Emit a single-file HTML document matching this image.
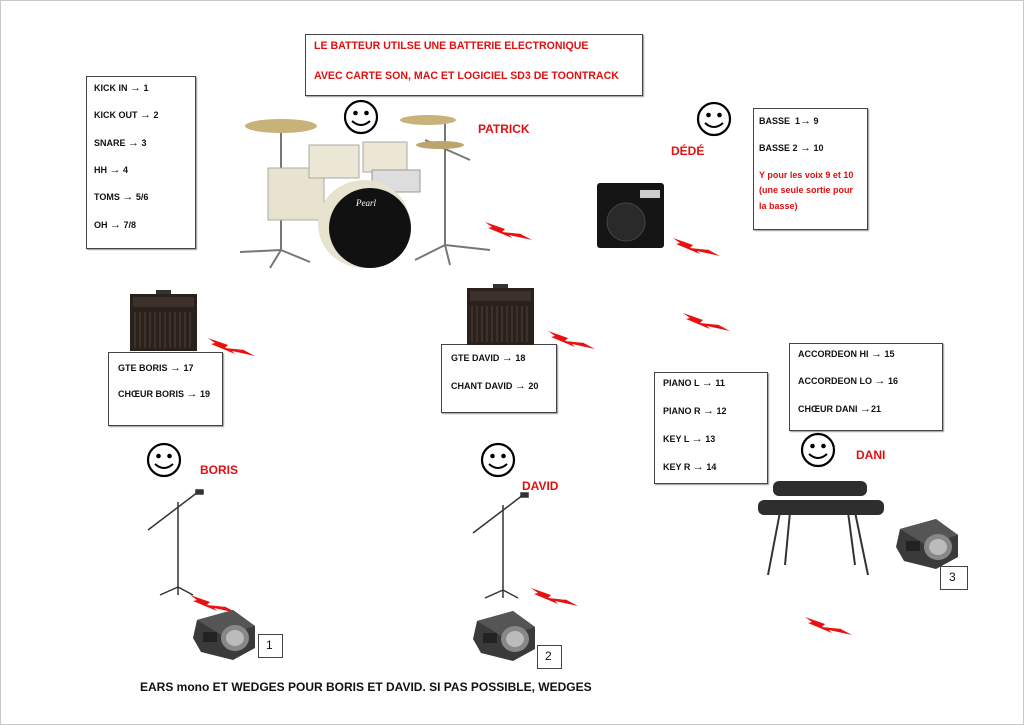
<!DOCTYPE html>
<html><head><meta charset="utf-8"><style>
body{margin:0;width:1024px;height:725px;background:#fff;overflow:hidden;position:relative;font-family:"Liberation Sans",Arial,sans-serif;}
.frame{position:absolute;left:0;top:0;width:1022px;height:723px;border:1px solid #c8c8c8;}
.box{position:absolute;border:1px solid #444;box-shadow:1px 1px 1px #999;background:#fff;}
.t{position:absolute;font-size:9px;font-weight:bold;white-space:nowrap;color:#111;}
.t b{font-size:11px;}
.r{color:#e01010;}
.name{position:absolute;color:#e01010;font-weight:bold;font-size:12px;}
svg{position:absolute;left:0;top:0;}
</style></head><body>
<div class="frame"></div>

<div class="box" style="left:305px;top:34px;width:336px;height:60px"></div>
<div class="t r" style="left:314px;top:40px;font-size:10.6px">LE BATTEUR UTILSE UNE BATTERIE ELECTRONIQUE</div>
<div class="t r" style="left:314px;top:70px;font-size:10.6px">AVEC CARTE SON, MAC ET LOGICIEL SD3 DE TOONTRACK</div>

<div class="box" style="left:86px;top:76px;width:108px;height:171px"></div>
<div class="t" style="left:94px;top:82px">KICK IN <b>→</b> 1</div>
<div class="t" style="left:94px;top:109px">KICK OUT <b>→</b> 2</div>
<div class="t" style="left:94px;top:137px">SNARE <b>→</b> 3</div>
<div class="t" style="left:94px;top:164px">HH <b>→</b> 4</div>
<div class="t" style="left:94px;top:191px">TOMS <b>→</b> 5/6</div>
<div class="t" style="left:94px;top:219px">OH <b>→</b> 7/8</div>

<div class="box" style="left:753px;top:108px;width:113px;height:120px"></div>
<div class="t" style="left:759px;top:115px">BASSE &nbsp;1<b>→</b> 9</div>
<div class="t" style="left:759px;top:142px">BASSE 2 <b>→</b> 10</div>
<div class="t r" style="left:759px;top:170px">Y pour les voix 9 et 10</div>
<div class="t r" style="left:759px;top:185px">(une seule sortie pour</div>
<div class="t r" style="left:759px;top:201px">la basse)</div>

<div class="box" style="left:108px;top:352px;width:113px;height:72px"></div>
<div class="t" style="left:118px;top:362px">GTE BORIS <b>→</b> 17</div>
<div class="t" style="left:118px;top:388px">CHŒUR BORIS <b>→</b> 19</div>

<div class="box" style="left:441px;top:344px;width:114px;height:67px"></div>
<div class="t" style="left:451px;top:352px">GTE DAVID <b>→</b> 18</div>
<div class="t" style="left:451px;top:380px">CHANT DAVID <b>→</b> 20</div>

<div class="box" style="left:654px;top:372px;width:112px;height:110px"></div>
<div class="t" style="left:663px;top:377px">PIANO L <b>→</b> 11</div>
<div class="t" style="left:663px;top:405px">PIANO R <b>→</b> 12</div>
<div class="t" style="left:663px;top:433px">KEY L <b>→</b> 13</div>
<div class="t" style="left:663px;top:461px">KEY R <b>→</b> 14</div>

<div class="box" style="left:789px;top:343px;width:152px;height:86px"></div>
<div class="t" style="left:798px;top:348px">ACCORDEON HI <b>→</b> 15</div>
<div class="t" style="left:798px;top:375px">ACCORDEON LO <b>→</b> 16</div>
<div class="t" style="left:798px;top:403px">CHŒUR DANI <b>→</b>21</div>

<div class="box" style="left:258px;top:634px;width:23px;height:22px;box-shadow:none"></div>
<div class="t" style="left:266px;top:638px;font-size:12px;font-weight:normal">1</div>
<div class="box" style="left:537px;top:645px;width:23px;height:22px;box-shadow:none"></div>
<div class="t" style="left:545px;top:649px;font-size:12px;font-weight:normal">2</div>
<div class="box" style="left:940px;top:566px;width:26px;height:22px;box-shadow:none"></div>
<div class="t" style="left:949px;top:570px;font-size:12px;font-weight:normal">3</div>

<div class="t" style="left:140px;top:680px;font-size:12px">EARS mono ET WEDGES POUR BORIS ET DAVID. SI PAS POSSIBLE, WEDGES</div>

<div class="name" style="left:478px;top:122px">PATRICK</div>
<div class="name" style="left:671px;top:144px">DÉDÉ</div>
<div class="name" style="left:200px;top:463px">BORIS</div>
<div class="name" style="left:522px;top:479px">DAVID</div>
<div class="name" style="left:856px;top:448px">DANI</div>

<svg width="1024" height="725" viewBox="0 0 1024 725">
<defs>
<g id="sm"><circle r="16" fill="#fff" stroke="#000" stroke-width="2.2"/><circle cx="-5.5" cy="-4" r="2.3"/><circle cx="5.5" cy="-4" r="2.3"/><path d="M-9 4 Q0 12 9 4" fill="none" stroke="#000" stroke-width="2"/></g>
<polygon id="lb" points="0,0 20,7 17,10 36,12 30,9 47,18 24,13 27,16 3,6 7,5" fill="#e81010"/>
<g id="amp"><rect x="0" y="0" width="67" height="57" fill="#2a211c"/><rect x="3" y="3" width="61" height="10" fill="#3d322b"/><g stroke="#4e4239" stroke-width="1"><line x1="5" y1="18" x2="5" y2="54"/><line x1="10" y1="18" x2="10" y2="54"/><line x1="15" y1="18" x2="15" y2="54"/><line x1="20" y1="18" x2="20" y2="54"/><line x1="25" y1="18" x2="25" y2="54"/><line x1="30" y1="18" x2="30" y2="54"/><line x1="35" y1="18" x2="35" y2="54"/><line x1="40" y1="18" x2="40" y2="54"/><line x1="45" y1="18" x2="45" y2="54"/><line x1="50" y1="18" x2="50" y2="54"/><line x1="55" y1="18" x2="55" y2="54"/><line x1="60" y1="18" x2="60" y2="54"/></g><rect x="26" y="-4" width="15" height="4" fill="#333"/></g>
<g id="wd"><polygon points="4,10 40,0 62,16 62,38 40,50 8,42 0,28" fill="#3a3a3a"/><polygon points="4,10 40,0 62,16 30,26" fill="#555"/><ellipse cx="42" cy="28" rx="14" ry="13" fill="#888"/><ellipse cx="42" cy="28" rx="9" ry="8" fill="#bbb"/><rect x="10" y="22" width="14" height="10" fill="#222"/></g>
<g id="mic" stroke="#333" fill="none" stroke-width="1.5"><line x1="30" y1="10" x2="30" y2="95"/><line x1="30" y1="95" x2="12" y2="103"/><line x1="30" y1="95" x2="45" y2="103"/><line x1="30" y1="95" x2="30" y2="103"/><line x1="0" y1="38" x2="50" y2="0"/><rect x="48" y="-2" width="7" height="4" fill="#333"/></g>
</defs>

<use href="#sm" x="361" y="117"/>
<use href="#sm" x="714" y="119"/>
<use href="#sm" x="164" y="460"/>
<use href="#sm" x="498" y="460"/>
<use href="#sm" x="818" y="450"/>

<use href="#lb" x="485" y="222"/>
<use href="#lb" x="673" y="238"/>
<use href="#lb" x="683" y="313"/>
<use href="#lb" x="208" y="338"/>
<use href="#lb" x="548" y="331"/>
<use href="#lb" x="190" y="595"/>
<use href="#lb" x="531" y="588"/>
<use href="#lb" x="805" y="617"/>

<use href="#amp" x="130" y="294"/>
<use href="#amp" x="467" y="288"/>
<g><rect x="597" y="183" width="67" height="65" rx="3" fill="#151515"/><circle cx="626" cy="222" r="19" fill="#2a2a2a" stroke="#444"/><rect x="640" y="190" width="20" height="8" fill="#ccc"/></g>

<use href="#wd" x="193" y="610"/>
<use href="#wd" x="473" y="611"/>
<use href="#wd" x="896" y="519"/>

<use href="#mic" x="148" y="492"/>
<use href="#mic" x="473" y="495"/>

<g stroke="#333" stroke-width="2"><line x1="780" y1="512" x2="768" y2="575"/><line x1="790" y1="512" x2="785" y2="565"/><line x1="855" y1="512" x2="868" y2="575"/><line x1="848" y1="512" x2="855" y2="565"/></g>
<rect x="773" y="481" width="94" height="15" rx="6" fill="#2e2e2e"/>
<rect x="758" y="500" width="126" height="15" rx="6" fill="#2e2e2e"/>

<g>
<g stroke="#777" stroke-width="2" fill="none">
<line x1="281" y1="125" x2="281" y2="250"/><line x1="281" y1="250" x2="240" y2="252"/><line x1="281" y1="250" x2="270" y2="268"/><line x1="281" y1="250" x2="310" y2="262"/>
<line x1="445" y1="120" x2="445" y2="245"/><line x1="445" y1="245" x2="415" y2="260"/><line x1="445" y1="245" x2="490" y2="250"/><line x1="445" y1="245" x2="450" y2="265"/>
<line x1="425" y1="140" x2="470" y2="160"/>
</g>
<ellipse cx="281" cy="126" rx="36" ry="7" fill="#c8b27a"/>
<ellipse cx="428" cy="120" rx="28" ry="5" fill="#c8b27a"/>
<ellipse cx="440" cy="145" rx="24" ry="4" fill="#bca46c"/>
<rect x="268" y="168" width="56" height="52" fill="#e8e3cf" stroke="#aaa"/>
<rect x="309" y="145" width="50" height="33" fill="#ece7d4" stroke="#aaa"/>
<rect x="363" y="142" width="44" height="30" fill="#ece7d4" stroke="#aaa"/>
<rect x="372" y="170" width="48" height="22" fill="#ddd" stroke="#999"/>
<ellipse cx="364" cy="224" rx="46" ry="44" fill="#e8e3cf"/>
<ellipse cx="370" cy="228" rx="41" ry="40" fill="#111"/>
<text x="356" y="206" font-family="Liberation Serif,serif" font-style="italic" font-size="9" fill="#fff">Pearl</text>
</g>
</svg>
</body></html>
